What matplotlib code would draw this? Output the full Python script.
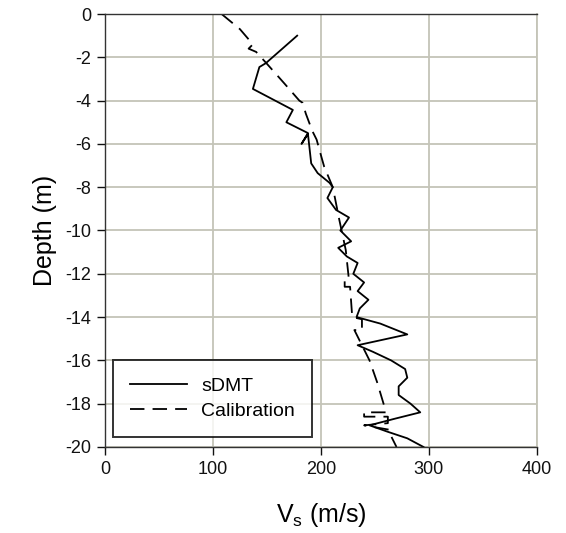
import matplotlib
matplotlib.use("Agg")
import matplotlib.pyplot as plt

plt.rcParams['font.family'] = ['Liberation Sans', 'DejaVu Sans']
plt.rcParams['axes.unicode_minus'] = False

# sDMT profile (Vs in m/s, depth in m)
sdmt_vs = [178, 149, 143, 137, 174, 168, 188, 182, 188, 191, 197, 208, 211, 206, 214, 226,
           218, 228, 216, 224, 234, 230, 240, 234, 244, 236, 233, 255, 280, 234, 248, 265,
           278, 280, 272, 272, 283, 292, 268, 245, 262, 280, 295]
sdmt_depth = [-1.0, -2.27, -2.45, -3.46, -4.43, -5.0, -5.5, -6.0, -5.55, -6.9, -7.35, -7.8, -8.0, -8.5, -9.05, -9.4,
              -10.0, -10.5, -10.8, -11.2, -11.5, -12.0, -12.4, -12.8, -13.2, -13.6, -14.0, -14.3, -14.8, -15.3, -15.6, -16.0,
              -16.4, -16.8, -17.2, -17.6, -18.0, -18.4, -18.7, -19.0, -19.3, -19.6, -20.0]

# calibration curve
cal_vs = [108, 125, 137, 133, 140, 150, 166, 180, 183, 186, 192, 196, 201, 203, 211, 217, 223, 226, 222,
          222, 227, 229, 238, 238, 231, 240, 245, 252, 258, 260, 240, 240, 262, 262, 240, 263, 265, 270]
cal_depth = [0, -0.7, -1.4, -1.6, -1.75, -2.3, -3.2, -4.0, -4.1, -4.6, -5.4, -5.8, -6.7, -7.05, -8.0, -9.5, -10.9, -12.3, -12.35,
             -12.6, -12.6, -14.0, -14.1, -14.6, -14.6, -15.5, -16.0, -17.0, -18.0, -18.4, -18.4, -18.6, -18.6, -18.9, -19.0, -19.2, -19.5, -20.0]

xticks = [0, 100, 200, 300, 400]
yticks = list(range(0, -21, -2))

fig = plt.figure(figsize=(5.66, 5.33), dpi=100)
ax = fig.add_axes([0.1855, 0.1614, 0.763, 0.8123])

ax.plot(sdmt_vs, sdmt_depth, color='black', lw=1.3, label='sDMT')
ax.plot(cal_vs, cal_depth, color='black', lw=1.3, dashes=(8, 4.5), label='Calibration')

ax.set_xlim(0, 400)
ax.set_ylim(-20, 0)
ax.set_xticks(xticks)
ax.set_yticks(yticks)
ax.grid(True, color='#c4c4b8', lw=1.3)
ax.set_axisbelow(True)
ax.tick_params(direction='out', length=6, width=1, labelsize=13, colors='#111111', pad=4)
for s in ['left', 'bottom', 'top']:
    ax.spines[s].set_color('#333333')
    ax.spines[s].set_linewidth(1)
ax.spines['right'].set_color('#c4c4b8')
ax.spines['right'].set_linewidth(1.3)

ax.set_xlabel('V$_\\mathregular{s}$ (m/s)', fontsize=18, labelpad=17)
ax.set_ylabel('Depth (m)', fontsize=18, labelpad=6)

leg = ax.legend(loc='lower left', bbox_to_anchor=(0.018, 0.023), borderaxespad=0, fontsize=14,
                frameon=True, fancybox=False, edgecolor='black', handlelength=2.9,
                handletextpad=0.75, borderpad=0.9, labelspacing=0.35)
leg.get_frame().set_linewidth(1.4)

fig.savefig('out.png', dpi=100)
